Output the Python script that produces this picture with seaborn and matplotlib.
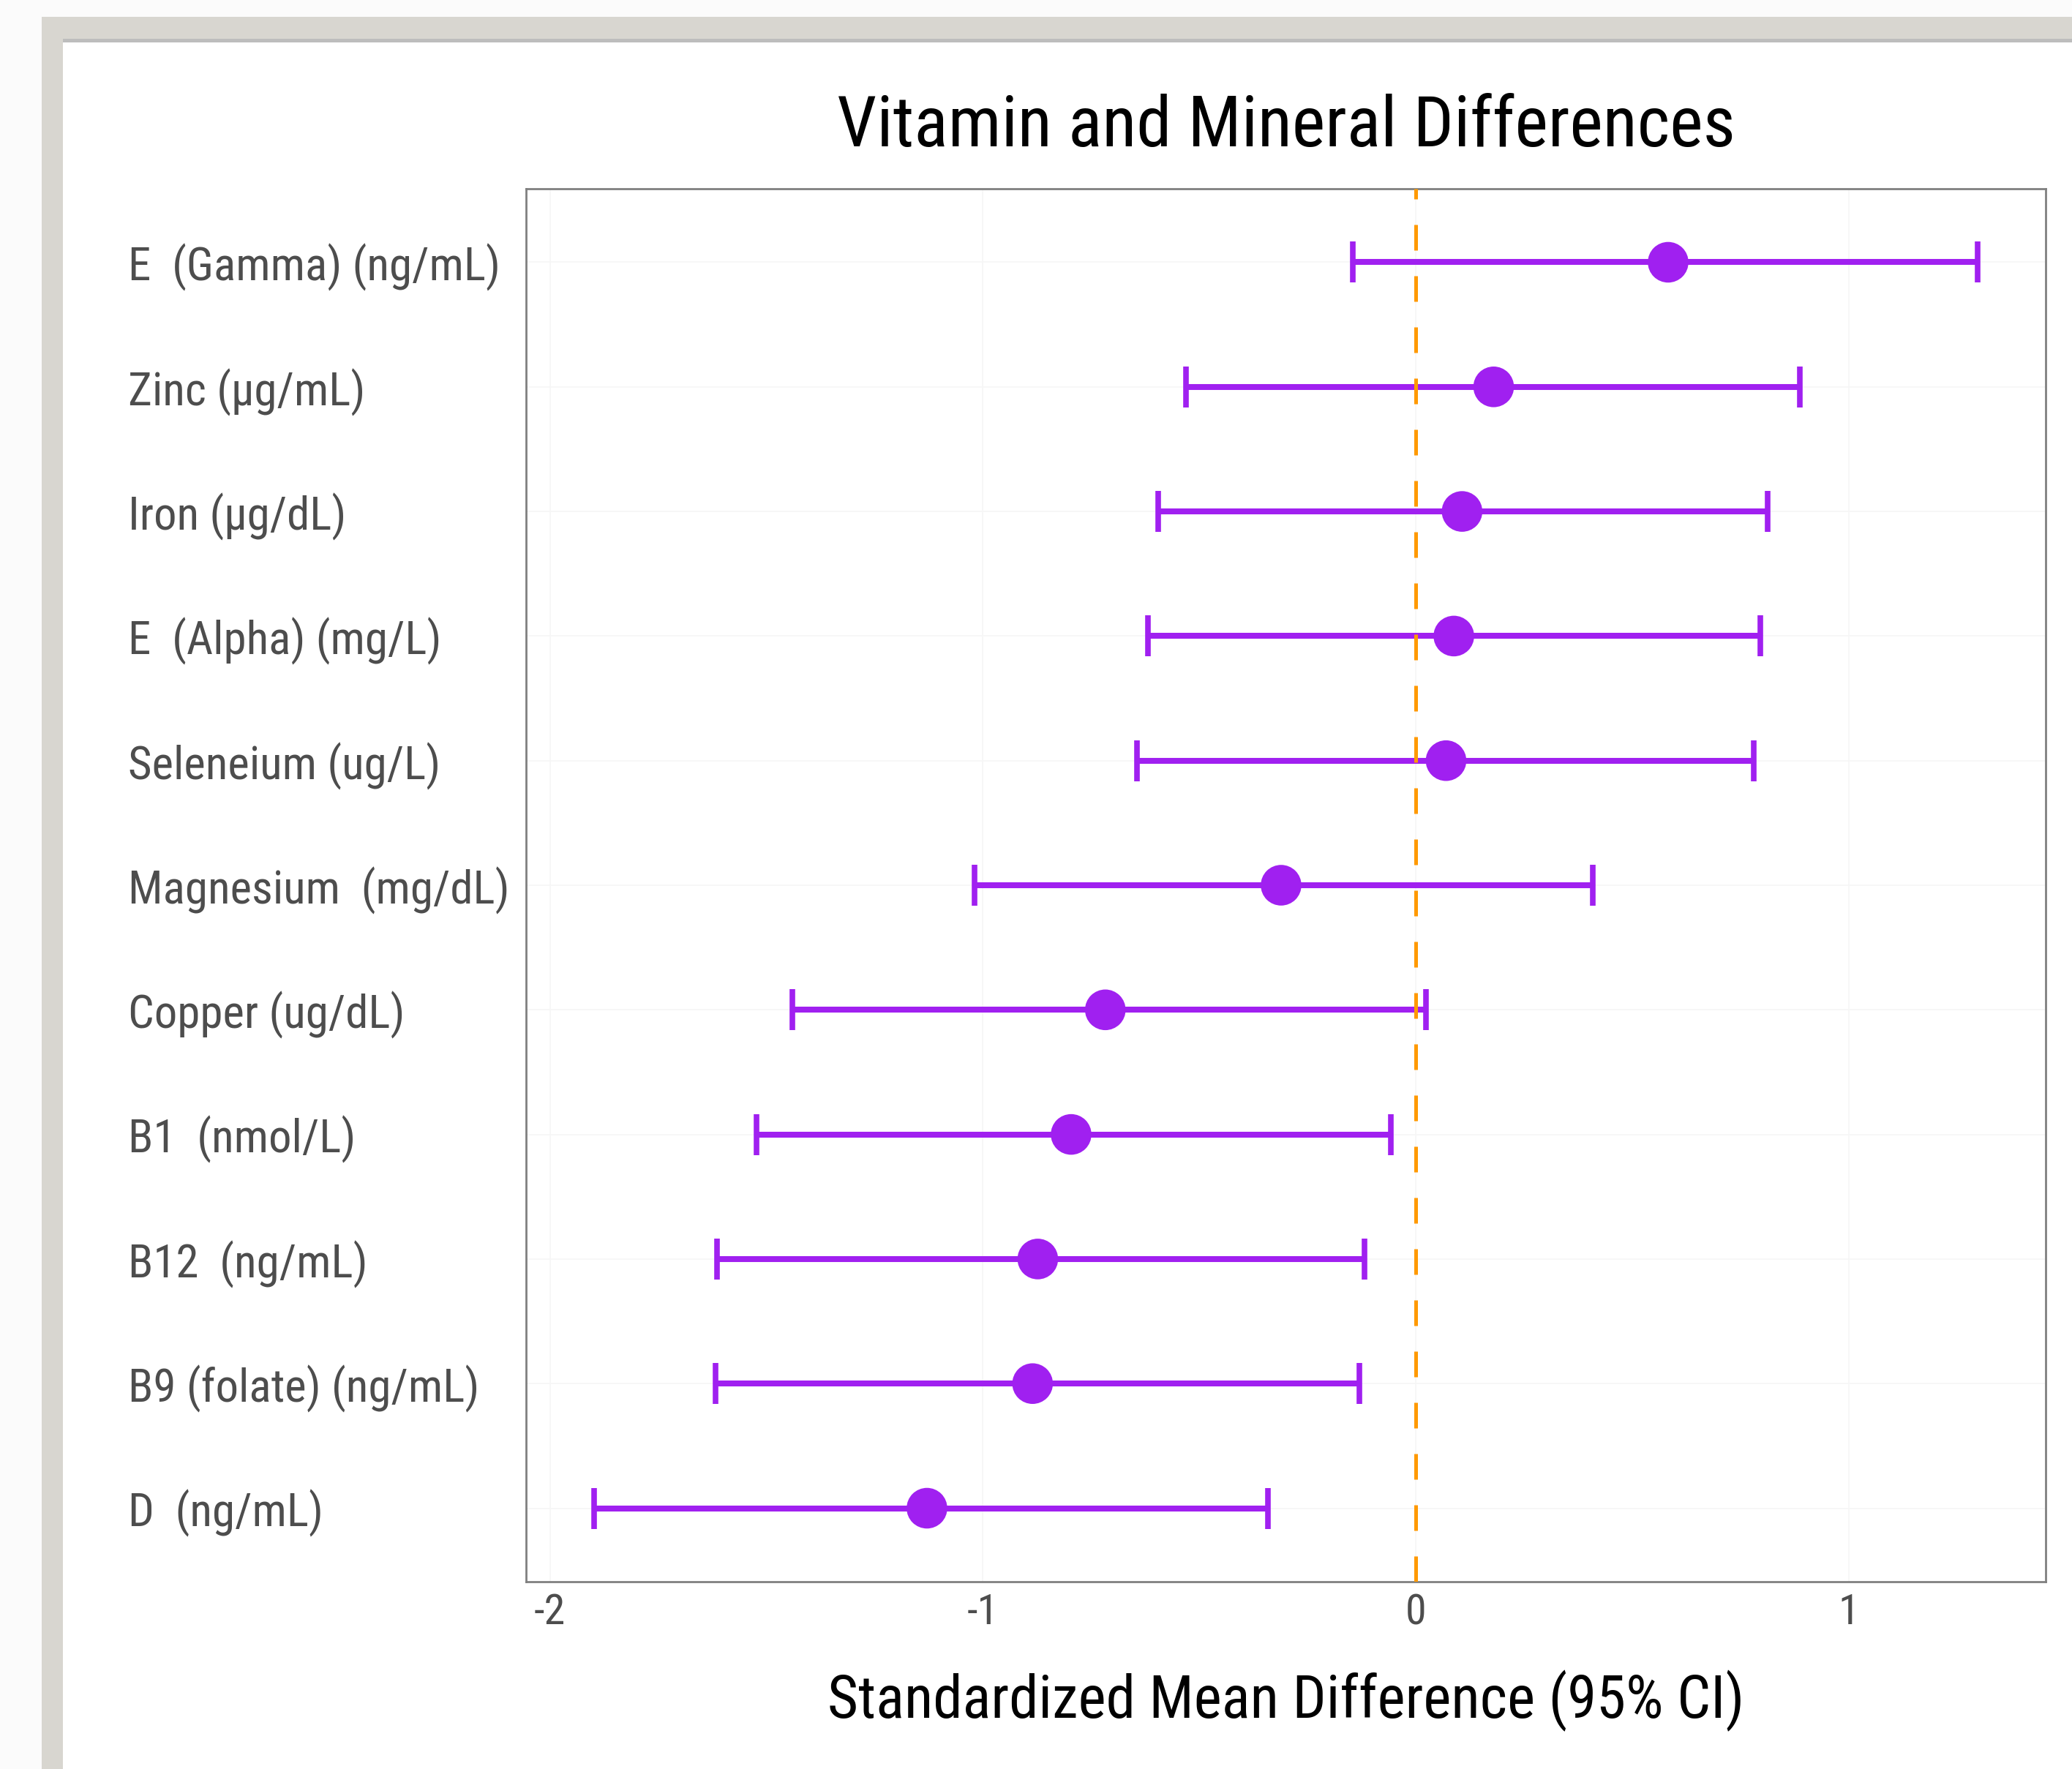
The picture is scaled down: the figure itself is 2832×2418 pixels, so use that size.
import os
import re
import numpy as np
import pandas as pd
import matplotlib
matplotlib.use("Agg")
import matplotlib.pyplot as plt
import seaborn as sns
from matplotlib import font_manager
from matplotlib.font_manager import FontProperties
from matplotlib.patches import Rectangle

# ---- data ----
labels = ["E  (Gamma) (ng/mL)", "Zinc (\u00b5g/mL)", "Iron (\u00b5g/dL)", "E  (Alpha) (mg/L)",
          "Seleneium (ug/L)", "Magnesium  (mg/dL)", "Copper (ug/dL)", "B1  (nmol/L)",
          "B12  (ng/mL)", "B9 (folate) (ng/mL)", "D  (ng/mL)"]
smd = [0.583, 0.180, 0.107, 0.088, 0.070, -0.311, -0.717, -0.796, -0.873, -0.885, -1.129]
ci_low = [-0.146, -0.531, -0.595, -0.619, -0.644, -1.019, -1.440, -1.523, -1.614, -1.617, -1.897]
ci_high = [1.297, 0.888, 0.812, 0.796, 0.781, 0.409, 0.024, -0.058, -0.119, -0.131, -0.342]
xticks = [-2, -1, 0, 1]
title = "Vitamin and Mineral Differences"
xlabel = "Standardized Mean Difference (95% CI)"

df = pd.DataFrame({"label": labels, "smd": smd, "lo": ci_low, "hi": ci_high})
df["pos"] = np.arange(len(df))

sns.set_theme(style="white")
plt.rcParams["font.family"] = ["Liberation Sans", "DejaVu Sans"]

W, H = 2832, 2418
fig = plt.figure(figsize=(W / 100, H / 100), dpi=100)
renderer = fig.canvas.get_renderer()

# ---- choose the narrowest Helvetica-like font available ----
pat = re.compile(r"(LiberationSansNarrow-Regular|ArialNarrow|Arial Narrow|RobotoCondensed-Regular|"
                 r"Roboto_Condensed-Regular|NotoSans-Condensed\.|NotoSans-SemiCondensed\.|"
                 r"DejaVuSansCondensed\.|LiberationSans-Regular)", re.I)
cands = []
for f in font_manager.fontManager.ttflist:
    if pat.search(os.path.basename(f.fname)):
        cands.append(f.fname)
cands = sorted(set(cands))
probe = "Magnesium  (mg/dL)"


def width_of(fp, size):
    t = fig.text(0, 0, probe, fontproperties=fp, fontsize=size)
    w = t.get_window_extent(renderer).width
    t.remove()
    return w


best = None
for fn in cands:
    try:
        fp = FontProperties(fname=fn)
        w = width_of(fp, 50)
    except Exception:
        continue
    if best is None or w < best[1]:
        best = (fp, w)
if best is None:
    best = (FontProperties(family="Liberation Sans"), width_of(FontProperties(family="Liberation Sans"), 50))
FP, w50 = best
fit = 522.0 / w50  # target label width measured on the reference
ylab_size = 50 * min(fit, 1.0)
tick_size = 44 * min(fit, 1.0) ** 0.5
title_size = 74 * min(fit, 1.0) ** 0.6
xlab_size = 62 * min(fit, 1.0) ** 0.6

fig.patch.set_facecolor("#fbfbfb")
# screenshot frame
fig.patches.append(Rectangle((57 / W, 0), 1, 1 - 23 / H, transform=fig.transFigure,
                             facecolor="#d8d6d0", edgecolor="none", zorder=-10))
fig.patches.append(Rectangle((86 / W, 0), 1, 1 - 53 / H, transform=fig.transFigure,
                             facecolor="white", edgecolor="none", zorder=-9))
fig.patches.append(Rectangle((86 / W, 1 - 58 / H), 1, 5 / H, transform=fig.transFigure,
                             facecolor="#bdbdbd", edgecolor="none", zorder=-8))

L, R, T, B = 719, 2796, 258, 2162
ax = fig.add_axes([L / W, 1 - B / H, (R - L) / W, (B - T) / H])
ax.set_facecolor("white")

purple = "#A020F0"
ax.errorbar(df["smd"], df["pos"],
            xerr=[df["smd"] - df["lo"], df["hi"] - df["smd"]],
            fmt="none", ecolor=purple, elinewidth=5.8, capsize=20, capthick=5.5, zorder=3)
sns.scatterplot(data=df, x="smd", y="pos", ax=ax, color=purple, s=40 ** 2,
                edgecolor="none", linewidth=0, zorder=4, legend=False)
ax.axvline(0, color="#FF9900", lw=3.6, dashes=(7, 7), zorder=5)

ax.set_xlim(-2.055, 1.455)
ax.set_ylim(len(df) - 1 + 0.59, -0.59)
ax.set_xticks(xticks)
ax.set_xticklabels([str(t) for t in xticks])
ax.set_yticks(df["pos"])
ax.set_yticklabels(df["label"])

ax.grid(True, which="major", color="#f6f6f6", lw=1.2)
ax.set_axisbelow(True)
for s in ax.spines.values():
    s.set_color("#808080")
    s.set_linewidth(2)

ax.tick_params(axis="y", length=0, pad=391.7, labelcolor="#4d4d4d")
ax.tick_params(axis="x", length=0, pad=11, labelcolor="#4d4d4d")
for t in ax.get_yticklabels():
    t.set_fontproperties(FP)
    t.set_fontsize(ylab_size)
    t.set_ha("left")
for t in ax.get_xticklabels():
    t.set_fontproperties(FP)
    t.set_fontsize(tick_size)

ax.set_title(title, fontproperties=FP, fontsize=title_size, color="black", pad=42)
ax.set_xlabel(xlabel, fontproperties=FP, fontsize=xlab_size, color="black", labelpad=36)
ax.set_ylabel("")

fig.savefig("out.png", dpi=100, facecolor=fig.get_facecolor())
